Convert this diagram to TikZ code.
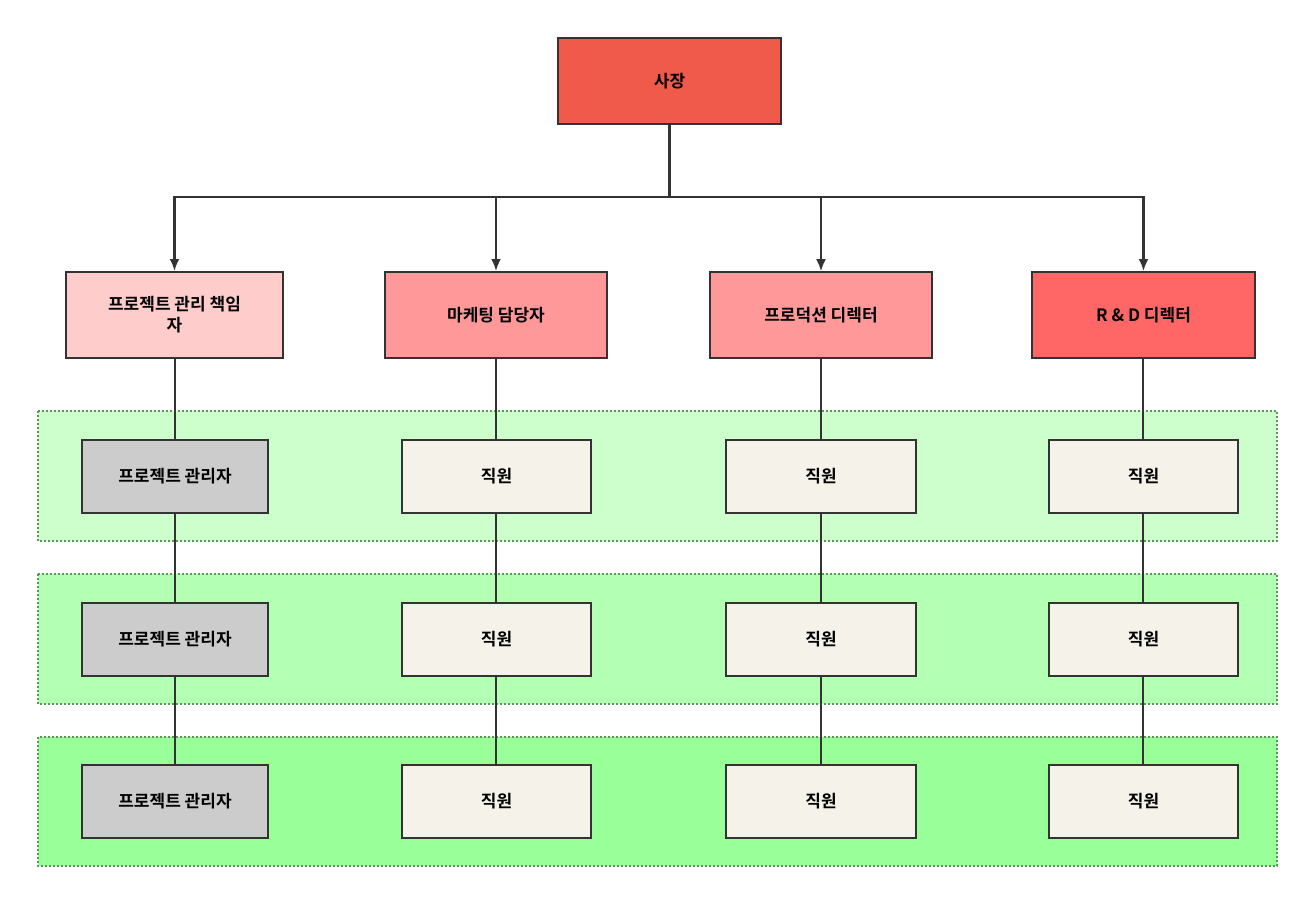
\documentclass[tikz,border=0pt]{standalone}
\usepackage{fontspec}
\usetikzlibrary{arrows.meta}
\newfontfamily\cjk{Noto Sans CJK KR}[BoldFont={Noto Sans CJK KR Bold}]
\definecolor{ceo}{HTML}{F05A4A}
\definecolor{pm}{HTML}{FFCCCC}
\definecolor{mid}{HTML}{FF9999}
\definecolor{rd}{HTML}{FF6666}
\definecolor{bandA}{HTML}{CCFFCC}
\definecolor{bandB}{HTML}{B3FFB3}
\definecolor{bandC}{HTML}{99FF99}
\definecolor{staff}{HTML}{F5F2EA}
\definecolor{grayb}{HTML}{CCCCCC}
\definecolor{dots}{HTML}{559955}
\definecolor{edge}{HTML}{333333}
\begin{document}
\begin{tikzpicture}[x=1pt,y=-1pt,
  box/.style={draw=edge,line width=2pt,font=\cjk\bfseries\fontsize{17}{21}\selectfont,align=center,inner sep=0pt},
  band/.style={draw=dots,line width=2pt,dotted},
  link/.style={draw=edge,line width=2pt},
  arr/.style={link,line width=2.5pt,-{Latex[length=12pt,width=10pt]}}]
\useasboundingbox (0,0) rectangle (1314,904);
\fill[white] (0,0) rectangle (1314,904);
\draw[band,fill=bandA] (38,411) rectangle (1277,541);
\draw[band,fill=bandB] (38,574) rectangle (1277,704);
\draw[band,fill=bandC] (38,737) rectangle (1277,866);
\foreach \c in {175,496,821,1143}{\draw[link] (\c,358) -- (\c,765);}
\node[box,fill=ceo,minimum width=223pt,minimum height=86pt] (ceo) at (669.5,81) {사장};
\node[box,fill=pm,minimum width=217pt,minimum height=86pt] (p1) at (174.5,315) {프로젝트 관리 책임\\자};
\node[box,fill=mid,minimum width=222pt,minimum height=86pt] (p2) at (496,315) {마케팅 담당자};
\node[box,fill=mid,minimum width=222pt,minimum height=86pt] (p3) at (821,315) {프로덕션 디렉터};
\node[box,fill=rd,minimum width=223pt,minimum height=86pt] (p4) at (1143.5,315) {R \& D 디렉터};
\foreach \r/\y in {1/476.5,2/639,3/801.5}{
  \node[box,fill=grayb,minimum width=186pt,minimum height=73pt] (a\r) at (175,\y) {프로젝트 관리자};
  \node[box,fill=staff,minimum width=189pt,minimum height=73pt] (b\r) at (496.5,\y) {직원};
  \node[box,fill=staff,minimum width=190pt,minimum height=73pt] (c\r) at (821,\y) {직원};
  \node[box,fill=staff,minimum width=189pt,minimum height=73pt] (d\r) at (1143.5,\y) {직원};
}
\coordinate (bus) at (669.5,197);
\draw[link,line width=3pt] (ceo.south) -- (bus);
\draw[arr] (bus) -| (p1.north);
\draw[arr] (bus) -| (p2.north);
\draw[arr,line width=1.5pt] (bus) -| (p3.north);
\draw[arr] (bus) -| (p4.north);
\end{tikzpicture}
\end{document}
